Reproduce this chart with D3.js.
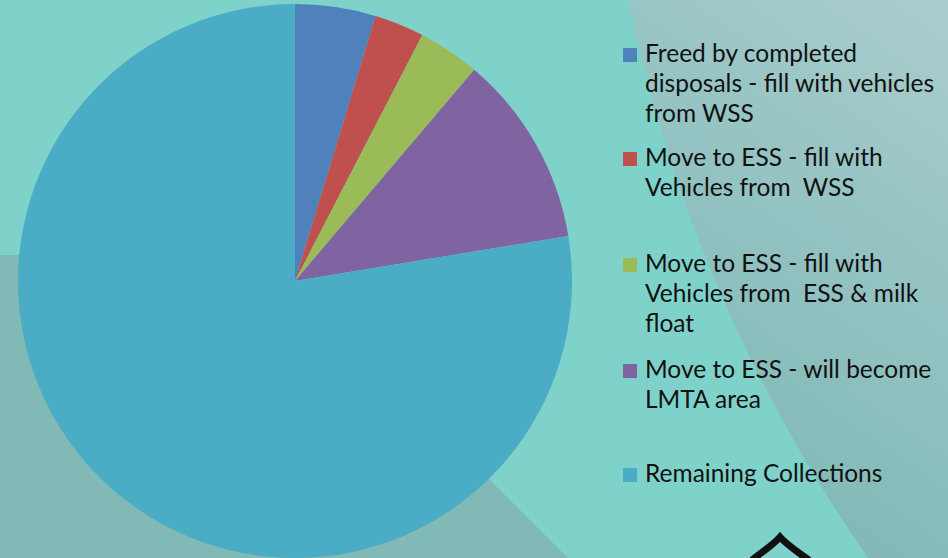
<!DOCTYPE html>
<html>
<head>
<meta charset="utf-8">
<script src="https://cdn.jsdelivr.net/npm/d3@7"></script>
<style>
  body { margin: 0; overflow: hidden; }
  svg { display: block; }
</style>
</head>
<body>
<svg id="chart"></svg>
<script>
// slice data (share of total)
var categories = [
    "Freed by completed disposals - fill with vehicles from WSS",
    "Move to ESS - fill with Vehicles from  WSS",
    "Move to ESS - fill with Vehicles from  ESS & milk float",
    "Move to ESS - will become LMTA area",
    "Remaining Collections"
];
var values = [4.7, 2.9, 3.6, 11.2, 77.6];
// legend text as it wraps in the original
var legendLines = [
    ["Freed by completed", "disposals - fill with vehicles", "from WSS"],
    ["Move to ESS - fill with", "Vehicles from  WSS"],
    ["Move to ESS - fill with", "Vehicles from  ESS & milk", "float"],
    ["Move to ESS - will become", "LMTA area"],
    ["Remaining Collections"]
];
var colors = ["#4f81bd", "#c0504d", "#9bbb59", "#8064a2", "#4bacc6"];

var W = 948, H = 558;
var svg = d3.select("#chart").attr("width", W).attr("height", H);

// ---- background decoration
var defs = svg.append("defs");
var grad = defs.append("linearGradient").attr("id", "rightGrad")
    .attr("x1", "1").attr("y1", "0").attr("x2", "0.6").attr("y2", "1");
grad.append("stop").attr("offset", "0%").attr("stop-color", "#a9cdcc");
grad.append("stop").attr("offset", "50%").attr("stop-color", "#93c3c2");
grad.append("stop").attr("offset", "100%").attr("stop-color", "#80b8b6");

svg.append("rect").attr("width", W).attr("height", H).attr("fill", "#7fd2ca");
// darker block bottom-left
svg.append("path")
    .attr("d", "M0,255 L265,255 L568,558 L0,558 Z")
    .attr("fill", "#80b9b6");
// big curved shape on the right
svg.append("path")
    .attr("d", "M628,0 A1510,1510 0 0,0 868,558 L948,558 L948,0 Z")
    .attr("fill", "url(#rightGrad)");

// ---- pie
var cx = 295, cy = 281, r = 277;
var pie = d3.pie().sort(null).value(d => d)(values);
var arc = d3.arc().innerRadius(0).outerRadius(r);

svg.append("g")
    .attr("transform", "translate(" + cx + "," + cy + ")")
    .selectAll("path")
    .data(pie)
    .enter().append("path")
    .attr("d", arc)
    .attr("fill", (d, i) => colors[i]);

// ---- legend
var legendTop = [62, 166, 272, 378, 482]; // baseline of first line
var lineH = 30;
var legend = svg.selectAll(".legend")
    .data(categories)
    .enter().append("g")
    .attr("class", "legend")
    .attr("transform", (d, i) => "translate(623," + legendTop[i] + ")");

legend.append("rect")
    .attr("x", 0).attr("y", -14)
    .attr("width", 14).attr("height", 14)
    .attr("fill", (d, i) => colors[i]);

legend.append("text")
    .attr("x", 22)
    .style("font-family", "Lato, 'Open Sans', sans-serif")
    .style("font-size", "24.5px")
    .attr("fill", "#111")
    .attr("xml:space", "preserve")
    .style("white-space", "pre")
    .each(function (d, i) {
        var t = d3.select(this);
        legendLines[i].forEach(function (ln, j) {
            t.append("tspan").attr("x", 22).attr("y", j * lineH).text(ln);
        });
    });

// ---- partial logo at the bottom
svg.append("path")
    .attr("d", "M752,560 C762,552 772,546 780,537 C788,546 798,552 809,560")
    .attr("fill", "none")
    .attr("stroke", "#111")
    .attr("stroke-width", 7);
</script>
</body>
</html>
